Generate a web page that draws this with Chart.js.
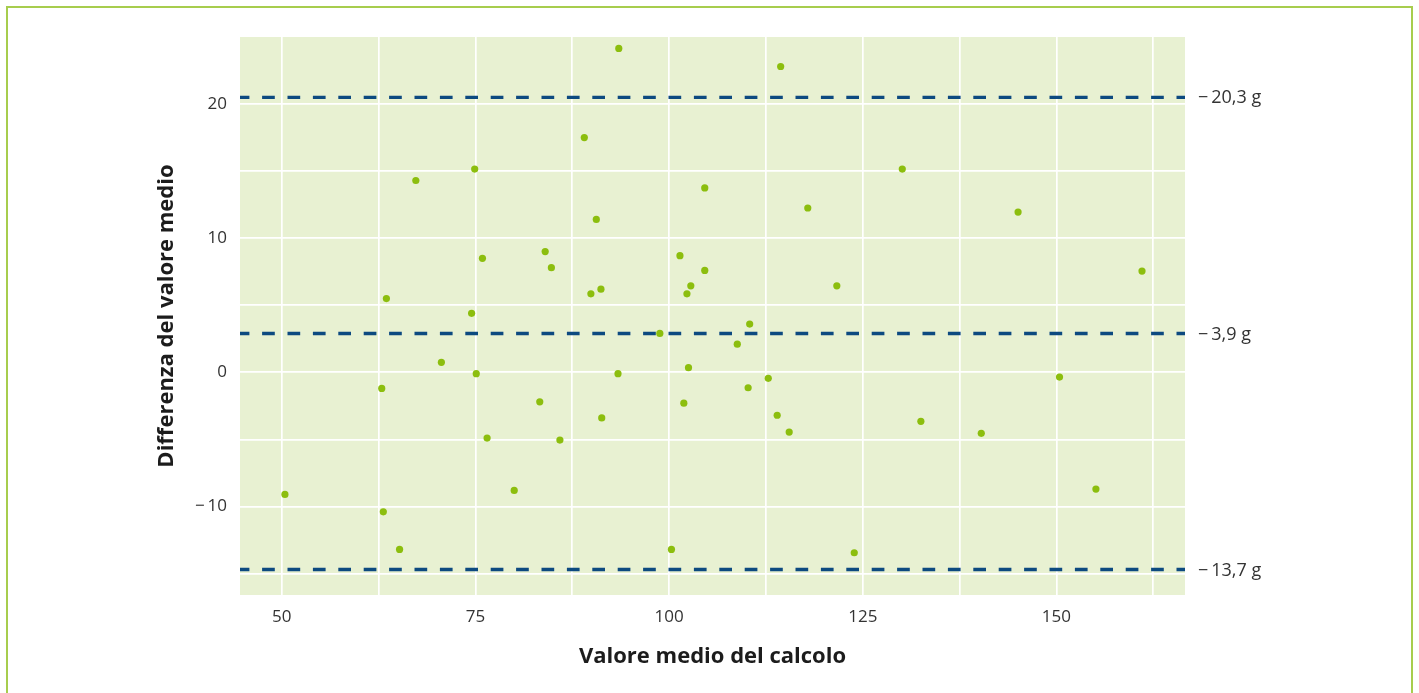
<!DOCTYPE html>
<html lang="it">
<head>
<meta charset="utf-8">
<title>Differenza del valore medio</title>
<script src="https://cdn.jsdelivr.net/npm/chart.js@4.4.1/dist/chart.umd.min.js"></script>
<style>
    html, body { margin: 0; padding: 0; background: #ffffff; overflow: hidden; }
    #frame {
        position: absolute;
        left: 6px; top: 6px;
        width: 1407px; height: 720px;
        border: 2px solid #a7cd4e;
        box-sizing: border-box;
    }
    #wrap { position: absolute; left: 0; top: 0; width: 1419px; height: 693px; }
</style>
</head>
<body>
<div id="frame"></div>
<div id="wrap"><canvas id="mainChart" width="1419" height="693"></canvas></div>
<script>
// ==================== 数据 ====================

// valore medio del calcolo (asse x)
const xValues = [
    50.4, 62.9, 63.1, 63.5, 65.2, 67.3, 70.6, 74.5, 74.9, 75.1,
    75.9, 76.5, 80.0, 83.3, 84.0, 84.8, 85.9, 89.05, 89.9, 90.6,
    91.2, 91.3, 93.5, 93.4, 98.8, 100.3, 101.4, 101.9, 102.3, 102.5,
    102.8, 104.6, 104.6, 108.8, 110.2, 110.4, 112.8, 113.95, 114.4, 115.5,
    117.9, 121.65, 123.9, 130.1, 132.5, 140.3, 145.05, 150.4, 155.1, 161.05
];

// differenza del valore medio (asse y)
const yValues = [
    -9.1, -1.2, -10.4, 5.5, -13.2, 14.3, 0.75, 4.4, 15.15, -0.1,
    8.5, -4.9, -8.8, -2.2, 9.0, 7.8, -5.05, 17.5, 5.85, 11.4,
    6.2, -3.4, 24.15, -0.1, 2.9, -13.2, 8.7, -2.3, 5.85, 0.35,
    6.45, 13.75, 7.6, 2.1, -1.15, 3.6, -0.45, -3.2, 22.8, -4.45,
    12.25, 6.45, -13.45, 15.15, -3.65, -4.55, 11.95, -0.35, -8.7, 7.55
];

// linee tratteggiate (limiti e media) e relative etichette
const refValues = [20.5, 2.9, -14.7];
const refLabels = ['\u2212\u200920,3 g', '\u2212\u20093,9 g', '\u2212\u200913,7 g'];

// griglia e etichette degli assi
const xGridValues = [50, 62.5, 75, 87.5, 100, 112.5, 125, 137.5, 150, 162.5];
const xTickLabels = [50, 75, 100, 125, 150];
const yGridValues = [-15, -10, -5, 0, 5, 10, 15, 20];
const yTickLabels = [-10, 0, 10, 20];

const X_MIN = 44.6, X_MAX = 166.6;
const Y_MIN = -16.6, Y_MAX = 25;

// ==================== 插件 ====================

const plotBackground = {
    id: 'plotBackground',
    beforeDraw(chart) {
        const { ctx, chartArea: a } = chart;
        ctx.save();
        ctx.fillStyle = '#e8f1d2';
        ctx.fillRect(a.left, a.top, a.right - a.left, a.bottom - a.top);
        ctx.restore();
    }
};

const refLineLabels = {
    id: 'refLineLabels',
    afterDraw(chart) {
        const { ctx, chartArea: a } = chart;
        const y = chart.scales.y;
        ctx.save();
        ctx.font = '18px "Open Sans"';
        ctx.fillStyle = '#333333';
        ctx.textAlign = 'left';
        ctx.textBaseline = 'middle';
        refValues.forEach((v, i) => {
            ctx.fillText(refLabels[i], a.right + 13, y.getPixelForValue(v) + 1);
        });
        ctx.restore();
    }
};

// ==================== 图表 ====================

function fmtNumber(v) {
    return v < 0 ? '\u2212\u2009' + Math.abs(v) : String(v);
}

const points = xValues.map((x, i) => ({ x, y: yValues[i] }));

const refDatasets = refValues.map(v => ({
    type: 'line',
    data: [{ x: X_MIN, y: v }, { x: X_MAX, y: v }],
    borderColor: '#0d4a80',
    borderWidth: 3.4,
    borderDash: [12.7, 12.7],
    borderDashOffset: 3.3,
    pointRadius: 0,
    fill: false,
    order: 2
}));

const ctx = document.getElementById('mainChart').getContext('2d');

const mainChart = new Chart(ctx, {
    type: 'scatter',
    data: {
        datasets: [
            {
                label: 'Differenza',
                data: points,
                backgroundColor: '#8cbe0e',
                borderWidth: 0,
                pointRadius: 3.6,
                order: 1
            },
            ...refDatasets
        ]
    },
    options: {
        responsive: false,
        animation: false,
        layout: { padding: { left: 0, top: 37, right: 234, bottom: 0 } },
        plugins: {
            legend: { display: false },
            tooltip: { enabled: false }
        },
        scales: {
            x: {
                type: 'linear',
                min: X_MIN,
                max: X_MAX,
                afterFit(scale) { scale.height = 98; },
                afterBuildTicks(scale) { scale.ticks = xGridValues.map(v => ({ value: v })); },
                grid: { color: '#ffffff', lineWidth: 1.7, drawTicks: false },
                border: { display: false },
                ticks: {
                    padding: 12,
                    color: '#333333',
                    font: { family: '"Open Sans"', size: 17 },
                    callback: v => xTickLabels.includes(v) ? fmtNumber(v) : ''
                },
                title: {
                    display: true,
                    text: 'Valore medio del calcolo',
                    color: '#1c1c1c',
                    font: { family: '"Open Sans"', size: 22, weight: 'bold' },
                    padding: { top: 0, bottom: 23 }
                }
            },
            y: {
                type: 'linear',
                min: Y_MIN,
                max: Y_MAX,
                afterFit(scale) { scale.width = 240; },
                afterBuildTicks(scale) { scale.ticks = yGridValues.map(v => ({ value: v })); },
                grid: { color: '#ffffff', lineWidth: 1.7, drawTicks: false },
                border: { display: false },
                ticks: {
                    padding: 13,
                    color: '#333333',
                    font: { family: '"Open Sans"', size: 17 },
                    callback: v => yTickLabels.includes(v) ? fmtNumber(v) : ''
                },
                title: {
                    display: true,
                    text: 'Differenza del valore medio',
                    color: '#1c1c1c',
                    font: { family: '"Open Sans"', size: 22, weight: 'bold' },
                    padding: { top: 154, bottom: 0 }
                }
            }
        }
    },
    plugins: [plotBackground, refLineLabels]
});
</script>
</body>
</html>
